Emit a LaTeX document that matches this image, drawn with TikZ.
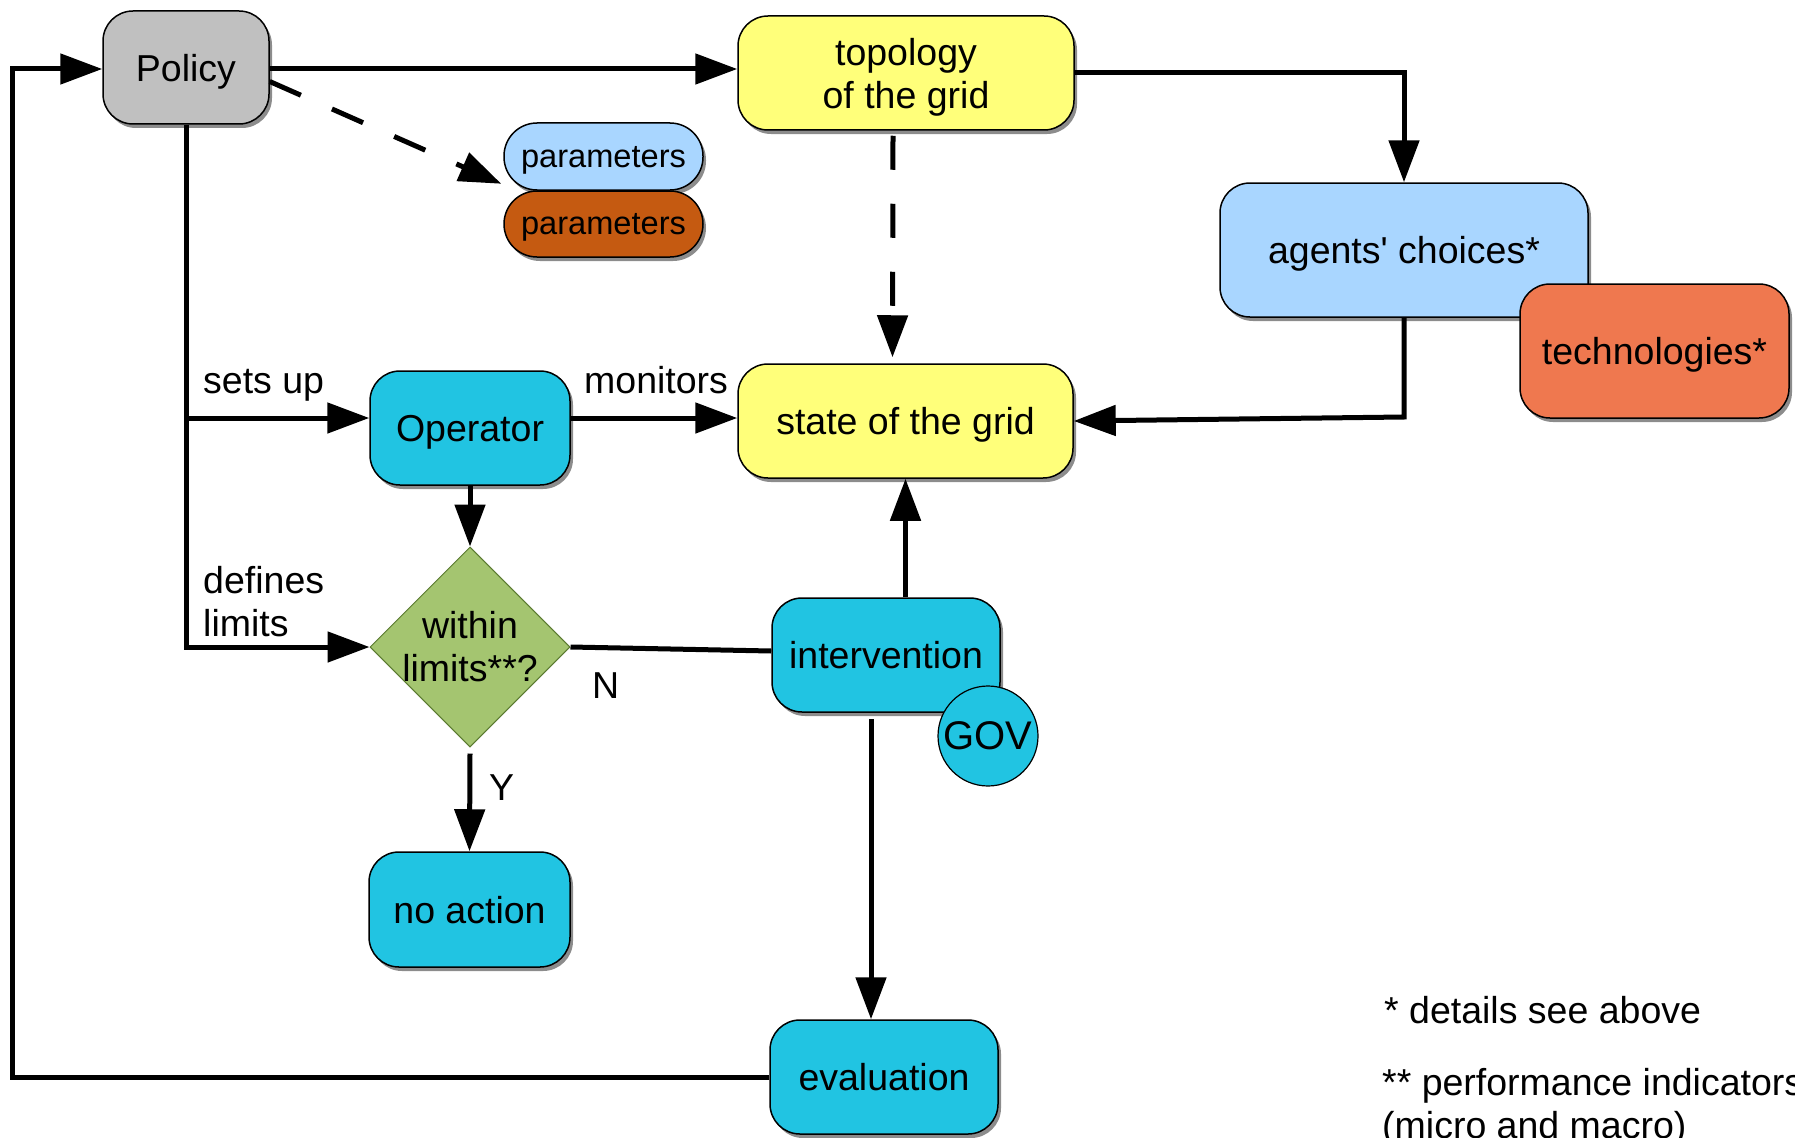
\documentclass[tikz,border=0pt]{standalone}
\usepackage{fontspec}
\setmainfont{Liberation Sans}
\usetikzlibrary{arrows.meta,shapes.geometric,shadows,calc}
\definecolor{cgray}{HTML}{C0C0C0}
\definecolor{cyellow}{HTML}{FFFF7A}
\definecolor{cblue}{HTML}{A9D6FF}
\definecolor{cbrown}{HTML}{C55A11}
\definecolor{corange}{HTML}{EF784F}
\definecolor{ccyan}{HTML}{21C4E2}
\definecolor{cgreen}{HTML}{A4C570}
\definecolor{cgreenline}{HTML}{5A7A30}
\begin{document}
\begin{tikzpicture}[x=1pt,y=-1pt,
  font=\fontsize{37.5}{43}\selectfont,
  box/.style={draw, line width=1.5pt, rounded corners=30pt, align=center, inner sep=0pt, text depth=0pt,
    drop shadow={shadow xshift=3pt,shadow yshift=-4pt,fill=black!45,opacity=1}},
  pill/.style={box, rounded corners=33pt, font=\fontsize{32.6}{38}\selectfont},
  conn/.style={line width=5pt, -{Triangle[length=42pt,width=30pt]}},
  dconn/.style={conn, dash pattern=on 34pt off 34pt},
  plain/.style={line width=5pt},
  lbl/.style={inner sep=0pt},
]
\useasboundingbox (0,0) rectangle (1795,1137);

% nodes
\node[box, fill=cgray, minimum width=166pt, minimum height=113pt] (policy) at (186,67.5) {Policy};
\node[box, fill=cyellow, minimum width=336pt, minimum height=114pt] (topology) at (906,73) {topology\\of the grid};
\node[pill, fill=cblue, minimum width=199pt, minimum height=67pt] (params1) at (603.5,156.5) {parameters};
\node[pill, fill=cbrown, minimum width=199pt, minimum height=66pt] (params2) at (603.5,224) {parameters};
\node[box, fill=cblue, minimum width=368pt, minimum height=134pt] (agents) at (1404,250) {agents\textquotesingle{} choices*};
\node[box, fill=corange, minimum width=269pt, minimum height=134pt] (tech) at (1654.5,351) {technologies*};
\node[box, fill=ccyan, minimum width=200pt, minimum height=114pt] (operator) at (470,428) {Operator};
\node[box, fill=cyellow, minimum width=335pt, minimum height=114pt] (state) at (905.5,421) {state of the grid};
\node[diamond, draw=cgreenline, line width=1pt, fill=cgreen, minimum width=200pt, minimum height=200pt, inner sep=0pt,
  label={[align=center, inner sep=0pt]center:within\\limits**?}] (decide) at (470,647) {};
\node[box, fill=ccyan, minimum width=228pt, minimum height=114pt] (intervention) at (886,655) {intervention};
\node[circle, draw, line width=1.2pt, fill=ccyan, minimum size=100pt, inner sep=0pt, font=\fontsize{40}{46}\selectfont] (gov) at (988,736) {GOV};
\node[box, fill=ccyan, minimum width=201pt, minimum height=115pt] (noaction) at (469.5,909.5) {no action};
\node[box, fill=ccyan, minimum width=228pt, minimum height=114pt] (evaluation) at (884,1077) {evaluation};

% labels
\node[lbl, anchor=base west] (lsetsup) at (203,393) {sets up};
\node[lbl, anchor=base west] (lmonitors) at (584,393) {monitors};
\node[lbl, anchor=north west, align=left] (ldefines) at (203,566) {defines\\limits};
\node[lbl, anchor=base west] (lN) at (592,698) {N};
\node[lbl, anchor=base west] (lY) at (489,800) {Y};
\node[lbl, anchor=base west] (note1) at (1384,1023) {* details see above};
\node[lbl, anchor=north west, align=left] (note2) at (1382,1068) {** performance indicators\\(micro and macro)};

% coordinates
\coordinate (j1) at (186,418);
\coordinate (j2) at (186,647);
\coordinate (bend) at (1404,417);
\coordinate (evstart) at (871,719);

% connectors
\draw[conn] ([yshift=-1.5pt]policy.east) -- ([yshift=-1.5pt]policy.east -| topology.west);
\draw[dconn] ([yshift=-14pt]policy.east) -- ([shift={(-2pt,7pt)}]params1.south west);
\draw[conn] (topology.east) -| (agents.north);
\draw[dconn] ([shift={(-13pt,-5pt)}]topology.south) -- ([shift={(-13pt,6pt)}]state.north);
\draw[conn] (agents.south) -- (bend) -- (state.east);
\draw[conn] (policy.south) -- (j2) -- (decide.west);
\draw[conn] (j1) -- (j1 -| operator.west);
\draw[conn] (j1 -| operator.east) -- (j1 -| state.west);
\draw[conn] (operator.south) -- (decide.north);
\draw[plain] (decide.east) -- ([yshift=4pt]intervention.west);
\draw[conn] (intervention.north -| state.south) -- (state.south);
\draw[conn] ([yshift=-6pt]decide.south) -- (noaction.north);
\draw[conn] (evstart) -- (evstart |- evaluation.north);
\draw[conn] (evaluation.west) -- ++(-757,0) |- ([yshift=-1.5pt]policy.west);
\end{tikzpicture}
\end{document}
